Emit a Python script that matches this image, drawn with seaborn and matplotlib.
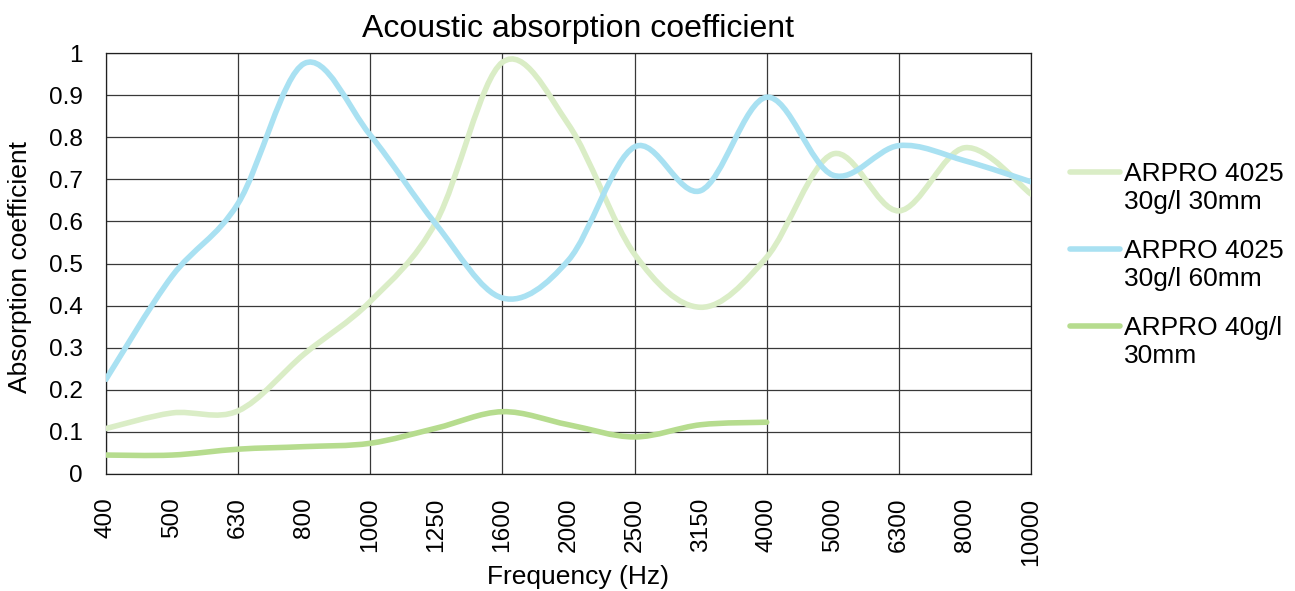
import numpy as np
import pandas as pd
import matplotlib
matplotlib.use("Agg")
import matplotlib.pyplot as plt
import seaborn as sns
from matplotlib.path import Path
from matplotlib.patches import PathPatch
from matplotlib.lines import Line2D
from matplotlib.legend_handler import HandlerLine2D

# ---------------- data ----------------
freq_labels = ["400", "500", "630", "800", "1000", "1250", "1600", "2000",
               "2500", "3150", "4000", "5000", "6300", "8000", "10000"]
series_names = ["ARPRO 4025\n30g/l 30mm", "ARPRO 4025\n30g/l 60mm", "ARPRO 40g/l\n30mm"]
arpro4025_30mm = [0.108, 0.145, 0.150, 0.285, 0.410, 0.600, 0.978, 0.830,
                  0.522, 0.396, 0.515, 0.760, 0.625, 0.775, 0.665]
arpro4025_60mm = [0.225, 0.470, 0.643, 0.975, 0.805, 0.592, 0.418, 0.508,
                  0.777, 0.673, 0.895, 0.710, 0.780, 0.744, 0.694]
arpro40_30mm = [0.045, 0.045, 0.059, 0.065, 0.073, 0.109, 0.148, 0.117,
                0.088, 0.117, 0.123, np.nan, np.nan, np.nan, np.nan]
colors = ["#DAEDC6", "#A9E1F2", "#B6DC8E"]

title = "Acoustic absorption coefficient"
x_label = "Frequency (Hz)"
y_label = "Absorption coefficient"
y_ticks = [0, 0.1, 0.2, 0.3, 0.4, 0.5, 0.6, 0.7, 0.8, 0.9, 1.0]

rows = []
for name, vals in zip(series_names, [arpro4025_30mm, arpro4025_60mm, arpro40_30mm]):
    for i, (f, v) in enumerate(zip(freq_labels, vals)):
        if not np.isnan(v):
            rows.append({"pos": i, "freq": f, "value": v, "series": name})
df = pd.DataFrame(rows)

# ---------------- style ----------------
sns.set_style("white")
plt.rcParams["font.family"] = ["Liberation Sans", "DejaVu Sans"]
plt.rcParams["text.color"] = "black"
plt.rcParams["xtick.color"] = "black"
plt.rcParams["ytick.color"] = "black"
plt.rcParams["axes.labelcolor"] = "black"

W, H = 1295, 591
fig, ax = plt.subplots(figsize=(W / 100, H / 100), dpi=100)
L, R, T, B = 106, 1031, 53, 474
fig.subplots_adjust(left=L / W, right=R / W, top=1 - T / H, bottom=1 - B / H)

LW = 4.0
sns.lineplot(data=df, x="pos", y="value", hue="series", hue_order=series_names,
             palette=colors, linewidth=LW, ax=ax, legend=False, sort=False)

ax.set_xlim(0, len(freq_labels) - 1)
ax.set_ylim(0, 1)
ax.xaxis.remove_overlapping_locs = False
ax.set_xticks(range(len(freq_labels)))
ax.set_xticklabels(freq_labels, rotation=90, fontsize=17.6, color="black")
ax.set_xticks(range(0, len(freq_labels), 2), minor=True)
ax.set_yticks(y_ticks)
ax.set_yticklabels([f"{v:g}" for v in y_ticks], fontsize=17.6, color="black")
ax.tick_params(axis="both", which="both", length=0)
ax.tick_params(axis="x", pad=17)
ax.tick_params(axis="y", pad=16.5)
ax.grid(False)
ax.grid(True, axis="y", which="major", color="#383838", linewidth=0.9)
ax.grid(True, axis="x", which="minor", color="#383838", linewidth=0.9)
ax.set_axisbelow(True)
for s in ax.spines.values():
    s.set_visible(True)
    s.set_color("#202020")
    s.set_linewidth(0.9)
ax.set_xlabel("")
ax.set_ylabel("")


class FirstLineHandler(HandlerLine2D):
    def create_artists(self, legend, orig_handle, xdescent, ydescent, width,
                       height, fontsize, trans):
        arts = super().create_artists(legend, orig_handle, xdescent, ydescent,
                                      width, height, fontsize, trans)
        for a in arts:
            a.set_ydata(np.asarray(a.get_ydata()) + 0.6 * fontsize)
            a.set_solid_capstyle("round")
        return arts


lines = list(ax.lines[:3])
leg = fig.legend(lines, series_names, loc="upper left",
                 bbox_to_anchor=(1069.5 / W, 1 - 162 / H), frameon=False,
                 fontsize=19, borderpad=0, borderaxespad=0, handlelength=1.9,
                 handletextpad=0.17, labelspacing=0.95,
                 handler_map={Line2D: FirstLineHandler()})


def excel_smooth(x, y):
    pts = np.column_stack([x, y]).astype(float)
    n = len(pts)
    verts = [pts[0]]
    codes = [Path.MOVETO]
    for i in range(n - 1):
        p0 = pts[i - 1] if i > 0 else pts[i]
        p1 = pts[i]
        p2 = pts[i + 1]
        p3 = pts[i + 2] if i + 2 < n else pts[i + 1]
        verts += [p1 + (p2 - p0) / 6.0, p2 - (p3 - p1) / 6.0, p2]
        codes += [Path.CURVE4] * 3
    return Path(verts, codes)


for ln in lines:
    x = np.asarray(ln.get_xdata(), dtype=float)
    y = np.asarray(ln.get_ydata(), dtype=float)
    patch = PathPatch(excel_smooth(x, y), facecolor="none", edgecolor=ln.get_color(),
                      linewidth=LW, capstyle="round", joinstyle="round", zorder=3)
    ax.add_patch(patch)
    ln.set_visible(False)

fig.text(578.5 / W, 1 - 36.7 / H, title, ha="center", va="baseline", fontsize=23)
fig.text(578 / W, 1 - 584 / H, x_label, ha="center", va="baseline", fontsize=19)
fig.text(20 / W, 1 - 267 / H, y_label, ha="center", va="center", rotation=90, fontsize=19)

fig.savefig("out.png", dpi=100)
